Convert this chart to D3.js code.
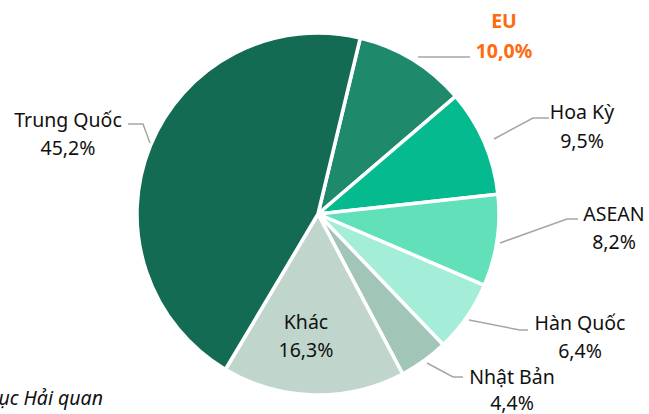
<!DOCTYPE html>
<html>
<head>
<meta charset="utf-8">
<script src="https://cdn.jsdelivr.net/npm/d3@7"></script>
<style>
  body { margin: 0; background: #fff; }
  text { font-family: "Noto Sans", "Open Sans", sans-serif; }
</style>
</head>
<body>
<div id="chart"></div>
<script>
//set up data (clockwise from the top)
var labels = ["EU", "Hoa Kỳ", "ASEAN", "Hàn Quốc", "Nhật Bản", "Khác", "Trung Quốc"];
var shares = [10.0, 9.5, 8.2, 6.4, 4.4, 16.3, 45.2];
var colors = ["#1F8A6B", "#04BA8E", "#61E0BA", "#A4EDD9", "#A1C5B6", "#C0D6CD", "#146B53"];

//set up svg dimensions
var svgwidth = 649;
var svgheight = 414;
var cx = 318, cy = 214, radius = 181;

var svg = d3.select("#chart").append("svg")
    .attr("width", svgwidth)
    .attr("height", svgheight);

var chartGroup = svg.append("g")
    .attr("transform", `translate(${cx}, ${cy})`);

//pie keeps the given order, starting a bit right of 12 o'clock
var startDeg = 13.5;
var pie = d3.pie()
    .sort(null)
    .value(d => d)
    .startAngle(startDeg * Math.PI / 180)
    .endAngle((startDeg + 360) * Math.PI / 180);

var arc = d3.arc().innerRadius(0).outerRadius(radius);
var arcs = pie(shares);

chartGroup.selectAll("path")
    .data(arcs)
    .enter()
    .append("path")
    .attr("d", arc)
    .attr("fill", (d, i) => colors[i])
    .attr("stroke", "#fff")
    .attr("stroke-width", 3.5)
    .attr("stroke-linejoin", "round");

//label placement (absolute page positions) and leader lines
var labelPos = [
    {x: 504, y: 28, dy: 30, line: [[470, 57], [418, 57]]},
    {x: 582, y: 119, dy: 29, line: [[549, 118], [533, 118], [494, 139]]},
    {x: 614, y: 221, dy: 28, line: [[578, 219], [567, 219], [500, 243]]},
    {x: 580, y: 330, dy: 28, line: [[528, 330], [520, 330], [469, 320]]},
    {x: 512, y: 384, dy: 26, line: [[463, 377], [453, 377], [427, 363]]},
    {x: 306, y: 329, dy: 28, line: null},
    {x: 68, y: 127, dy: 28, line: [[128, 124], [143, 124], [150, 143]]}
];

var lineGen = d3.line();
labelPos.forEach(function(p, i) {
    if (p.line) {
        svg.append("path")
            .attr("d", lineGen(p.line))
            .attr("fill", "none")
            .attr("stroke", "#A6A6A6")
            .attr("stroke-width", 1.5);
    }
    var isEU = i === 0;
    var t = svg.append("text")
        .attr("x", p.x)
        .attr("y", p.y)
        .attr("text-anchor", "middle")
        .attr("font-size", 19.5)
        .attr("fill", isEU ? "#FF6A0D" : "#111")
        .attr("font-weight", isEU ? "bold" : "normal");
    t.append("tspan").attr("x", p.x).text(labels[i]);
    t.append("tspan").attr("x", p.x).attr("dy", p.dy)
        .text(shares[i].toFixed(1).replace(".", ",") + "%");
});

//source note, cut off at the left edge like the original
svg.append("text")
    .attr("x", 103)
    .attr("y", 405)
    .attr("text-anchor", "end")
    .attr("font-size", 19.5)
    .attr("font-style", "italic")
    .attr("fill", "#111")
    .text("Nguồn: Tổng cục Hải quan");
</script>
</body>
</html>
